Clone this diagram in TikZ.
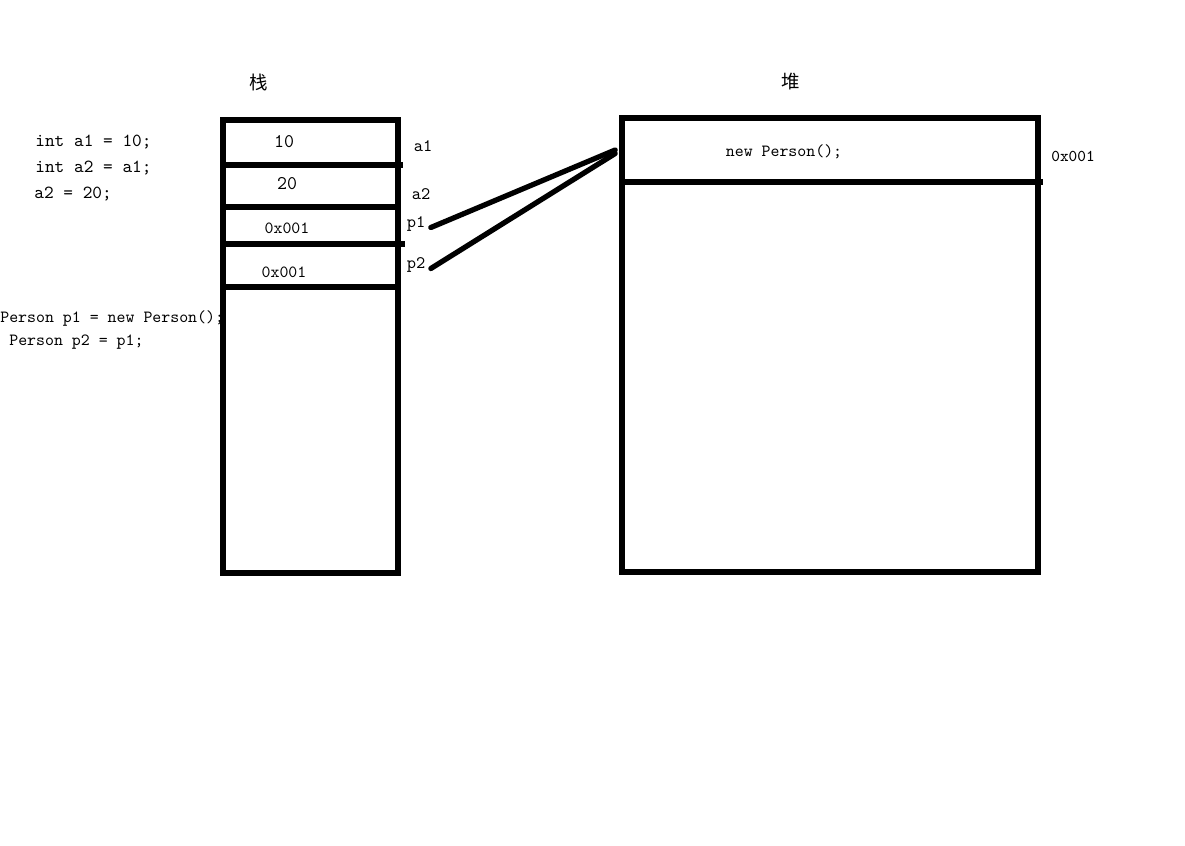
\documentclass[tikz,border=0pt]{standalone}
\usepackage{fontspec}
\newfontfamily\cjk{Noto Sans CJK SC}
\usetikzlibrary{positioning}

\begin{document}
\begin{tikzpicture}[
    x=0.02cm,
    y=-0.02cm,
    font=\ttfamily\fontsize{9.7}{11}\selectfont,
    wall/.style={
        draw=black,
        line width=3pt
    },
    cell/.style={
        inner sep=0pt,
        anchor=center
    },
    code/.style={
        inner sep=0pt,
        anchor=west,
        align=left
    },
    tag/.style={
        inner sep=1pt,
        anchor=center,
        font=\ttfamily\fontsize{10}{11}\selectfont
    },
    title/.style={
        inner sep=0pt,
        font=\cjk\fontsize{10.5}{12}\selectfont
    },
    ref/.style={line width=3pt, line cap=round}
]

\useasboundingbox (0,0) rectangle (1185,845);

% titles
\node[title] (stacktitle) at (259,82) {栈};
\node[title] (heaptitle) at (791,82) {堆};

% source code
\node[code, font=\ttfamily\fontsize{10.5}{12}\selectfont] (prim1) at (35,142) {int a1 = 10;};
\node[code, font=\ttfamily\fontsize{10.5}{12}\selectfont] (prim2) at (35,168) {int a2 = a1;};
\node[code, font=\ttfamily\fontsize{10.5}{12}\selectfont] (prim3) at (34,194) {a2 = 20;};
\node[code] (obj1) at (0,318) {Person p1 = new Person();};
\node[code] (obj2) at (9,342) {Person p2 = p1;};

% stack
\draw[wall] (223,120) rectangle (398,573);
\draw[wall] (223,165) -- (403,165);
\draw[wall] (223,207) -- (398,207);
\draw[wall] (223,244) -- (405,244);
\draw[wall] (223,287) -- (398,287);

\node[cell, font=\ttfamily\fontsize{11}{12}\selectfont] (va1) at (284,142) {10};
\node[cell, font=\ttfamily\fontsize{11}{12}\selectfont] (va2) at (287,184) {20};
\node[cell] (vp1) at (287,228) {0x001};
\node[cell] (vp2) at (284,272) {0x001};

\node[tag] (a1) at (423,146) {a1};
\node[tag] (a2) at (421,194) {a2};
\node[tag] (p1) at (416,224) {p1};
\node[tag] (p2) at (416,265) {p2};

% heap
\draw[wall] (622,118) rectangle (1038,572);
\draw[wall] (622,182) -- (1043,182);

\node[cell] (obj) at (784,152) {new Person();};
\node[cell, minimum width=8.3cm, minimum height=1.28cm] (objcell) at (830,150) {};
\node[tag, font=\ttfamily\fontsize{9.4}{11}\selectfont] (addr) at (1073,156) {0x001};

% references
\draw[ref] ([xshift=2pt,yshift=-2pt]p1.east) -- ([xshift=-4pt]objcell.west);
\draw[ref] ([xshift=2pt,yshift=-2pt]p2.east) -- ([xshift=-4pt,yshift=-2pt]objcell.west);

\end{tikzpicture}
\end{document}
